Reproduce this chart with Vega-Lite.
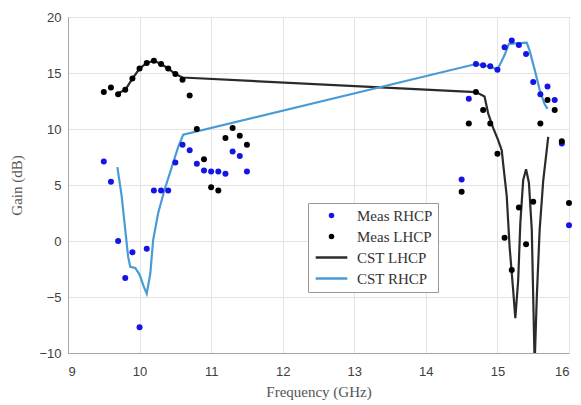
{
  "$schema": "https://vega.github.io/schema/vega-lite/v6.json",
  "width": 501,
  "height": 336,
  "autosize": "none",
  "padding": {"left": 68, "top": 17, "right": 12, "bottom": 52},
  "config": {
    "view": {"stroke": "#a6a6a6", "strokeWidth": 1},
    "axis": {
      "labelFont": "Liberation Sans",
      "labelFontSize": 13,
      "labelColor": "#404040",
      "titleFont": "Liberation Serif",
      "titleFontSize": 15,
      "titleFontWeight": "normal",
      "titleColor": "#555555",
      "gridColor": "#e3e3e3",
      "domainColor": "#a6a6a6",
      "ticks": false
    }
  },
  "datasets": {
    "meas": [
      {"s": "Meas RHCP", "f": 9.5, "g": 7.1},
      {"s": "Meas RHCP", "f": 9.6, "g": 5.3},
      {"s": "Meas RHCP", "f": 9.7, "g": 0.0},
      {"s": "Meas RHCP", "f": 9.8, "g": -3.3},
      {"s": "Meas RHCP", "f": 9.9, "g": -1.0},
      {"s": "Meas RHCP", "f": 10.0, "g": -7.7},
      {"s": "Meas RHCP", "f": 10.1, "g": -0.7},
      {"s": "Meas RHCP", "f": 10.2, "g": 4.5},
      {"s": "Meas RHCP", "f": 10.3, "g": 4.5},
      {"s": "Meas RHCP", "f": 10.4, "g": 4.5},
      {"s": "Meas RHCP", "f": 10.5, "g": 7.0},
      {"s": "Meas RHCP", "f": 10.6, "g": 8.6},
      {"s": "Meas RHCP", "f": 10.7, "g": 8.1},
      {"s": "Meas RHCP", "f": 10.8, "g": 6.9},
      {"s": "Meas RHCP", "f": 10.9, "g": 6.3},
      {"s": "Meas RHCP", "f": 11.0, "g": 6.2},
      {"s": "Meas RHCP", "f": 11.1, "g": 6.2},
      {"s": "Meas RHCP", "f": 11.2, "g": 6.0},
      {"s": "Meas RHCP", "f": 11.3, "g": 8.0},
      {"s": "Meas RHCP", "f": 11.4, "g": 7.6},
      {"s": "Meas RHCP", "f": 11.5, "g": 6.2},
      {"s": "Meas RHCP", "f": 14.5, "g": 5.5},
      {"s": "Meas RHCP", "f": 14.6, "g": 12.7},
      {"s": "Meas RHCP", "f": 14.7, "g": 15.8},
      {"s": "Meas RHCP", "f": 14.8, "g": 15.7},
      {"s": "Meas RHCP", "f": 14.9, "g": 15.6},
      {"s": "Meas RHCP", "f": 15.0, "g": 15.3},
      {"s": "Meas RHCP", "f": 15.1, "g": 17.3},
      {"s": "Meas RHCP", "f": 15.2, "g": 17.9},
      {"s": "Meas RHCP", "f": 15.3, "g": 17.5},
      {"s": "Meas RHCP", "f": 15.4, "g": 16.7},
      {"s": "Meas RHCP", "f": 15.5, "g": 14.2},
      {"s": "Meas RHCP", "f": 15.6, "g": 13.1},
      {"s": "Meas RHCP", "f": 15.7, "g": 13.8},
      {"s": "Meas RHCP", "f": 15.8, "g": 12.6},
      {"s": "Meas RHCP", "f": 15.9, "g": 8.7},
      {"s": "Meas RHCP", "f": 16.0, "g": 1.4},
      {"s": "Meas LHCP", "f": 9.5, "g": 13.3},
      {"s": "Meas LHCP", "f": 9.6, "g": 13.7},
      {"s": "Meas LHCP", "f": 9.7, "g": 13.1},
      {"s": "Meas LHCP", "f": 9.8, "g": 13.5},
      {"s": "Meas LHCP", "f": 9.9, "g": 14.5},
      {"s": "Meas LHCP", "f": 10.0, "g": 15.4},
      {"s": "Meas LHCP", "f": 10.1, "g": 15.9},
      {"s": "Meas LHCP", "f": 10.2, "g": 16.1},
      {"s": "Meas LHCP", "f": 10.3, "g": 15.8},
      {"s": "Meas LHCP", "f": 10.4, "g": 15.4},
      {"s": "Meas LHCP", "f": 10.5, "g": 14.9},
      {"s": "Meas LHCP", "f": 10.6, "g": 14.4},
      {"s": "Meas LHCP", "f": 10.7, "g": 13.0},
      {"s": "Meas LHCP", "f": 10.8, "g": 10.0},
      {"s": "Meas LHCP", "f": 10.9, "g": 7.3},
      {"s": "Meas LHCP", "f": 11.0, "g": 4.8},
      {"s": "Meas LHCP", "f": 11.1, "g": 4.5},
      {"s": "Meas LHCP", "f": 11.2, "g": 9.2},
      {"s": "Meas LHCP", "f": 11.3, "g": 10.1},
      {"s": "Meas LHCP", "f": 11.4, "g": 9.4},
      {"s": "Meas LHCP", "f": 11.5, "g": 8.6},
      {"s": "Meas LHCP", "f": 14.5, "g": 4.4},
      {"s": "Meas LHCP", "f": 14.6, "g": 10.5},
      {"s": "Meas LHCP", "f": 14.7, "g": 13.3},
      {"s": "Meas LHCP", "f": 14.8, "g": 11.7},
      {"s": "Meas LHCP", "f": 14.9, "g": 10.5},
      {"s": "Meas LHCP", "f": 15.0, "g": 7.8},
      {"s": "Meas LHCP", "f": 15.1, "g": 0.3},
      {"s": "Meas LHCP", "f": 15.2, "g": -2.6},
      {"s": "Meas LHCP", "f": 15.3, "g": 3.0},
      {"s": "Meas LHCP", "f": 15.4, "g": -0.3},
      {"s": "Meas LHCP", "f": 15.5, "g": 3.5},
      {"s": "Meas LHCP", "f": 15.6, "g": 10.5},
      {"s": "Meas LHCP", "f": 15.7, "g": 12.6},
      {"s": "Meas LHCP", "f": 15.8, "g": 11.7},
      {"s": "Meas LHCP", "f": 15.9, "g": 8.9},
      {"s": "Meas LHCP", "f": 16.0, "g": 3.4}
    ],
    "cst": [
      {"s": "CST LHCP", "f": 9.7, "g": 13.2},
      {"s": "CST LHCP", "f": 9.8, "g": 13.5},
      {"s": "CST LHCP", "f": 9.9, "g": 14.5},
      {"s": "CST LHCP", "f": 10.0, "g": 15.4},
      {"s": "CST LHCP", "f": 10.1, "g": 15.9},
      {"s": "CST LHCP", "f": 10.2, "g": 16.1},
      {"s": "CST LHCP", "f": 10.3, "g": 15.8},
      {"s": "CST LHCP", "f": 10.4, "g": 15.4},
      {"s": "CST LHCP", "f": 10.5, "g": 14.9},
      {"s": "CST LHCP", "f": 10.6, "g": 14.6},
      {"s": "CST LHCP", "f": 14.7, "g": 13.3},
      {"s": "CST LHCP", "f": 14.82, "g": 12.9},
      {"s": "CST LHCP", "f": 14.87, "g": 11.4},
      {"s": "CST LHCP", "f": 14.94, "g": 10.1},
      {"s": "CST LHCP", "f": 15.01, "g": 9.0},
      {"s": "CST LHCP", "f": 15.06, "g": 8.1},
      {"s": "CST LHCP", "f": 15.08, "g": 6.9},
      {"s": "CST LHCP", "f": 15.13, "g": 4.0},
      {"s": "CST LHCP", "f": 15.17, "g": -0.5},
      {"s": "CST LHCP", "f": 15.22, "g": -4.4},
      {"s": "CST LHCP", "f": 15.25, "g": -6.9},
      {"s": "CST LHCP", "f": 15.29, "g": -3.5},
      {"s": "CST LHCP", "f": 15.32, "g": 1.6},
      {"s": "CST LHCP", "f": 15.36, "g": 5.45},
      {"s": "CST LHCP", "f": 15.4, "g": 6.4},
      {"s": "CST LHCP", "f": 15.44, "g": 5.2},
      {"s": "CST LHCP", "f": 15.48, "g": 1.0},
      {"s": "CST LHCP", "f": 15.5, "g": -5.0},
      {"s": "CST LHCP", "f": 15.52, "g": -11.0},
      {"s": "CST LHCP", "f": 15.55, "g": -5.0},
      {"s": "CST LHCP", "f": 15.59, "g": 1.0},
      {"s": "CST LHCP", "f": 15.64, "g": 5.4},
      {"s": "CST LHCP", "f": 15.71, "g": 9.3},
      {"s": "CST RHCP", "f": 9.69, "g": 6.6},
      {"s": "CST RHCP", "f": 9.75, "g": 4.0},
      {"s": "CST RHCP", "f": 9.8, "g": 1.0},
      {"s": "CST RHCP", "f": 9.84, "g": -1.4},
      {"s": "CST RHCP", "f": 9.87, "g": -2.3},
      {"s": "CST RHCP", "f": 9.94, "g": -2.4},
      {"s": "CST RHCP", "f": 10.0, "g": -3.0},
      {"s": "CST RHCP", "f": 10.06, "g": -4.1},
      {"s": "CST RHCP", "f": 10.1, "g": -4.7},
      {"s": "CST RHCP", "f": 10.15, "g": -2.9},
      {"s": "CST RHCP", "f": 10.19, "g": 0.1},
      {"s": "CST RHCP", "f": 10.26, "g": 2.5},
      {"s": "CST RHCP", "f": 10.35, "g": 4.6},
      {"s": "CST RHCP", "f": 10.45, "g": 6.6},
      {"s": "CST RHCP", "f": 10.54, "g": 8.4},
      {"s": "CST RHCP", "f": 10.61, "g": 9.5},
      {"s": "CST RHCP", "f": 14.7, "g": 15.8},
      {"s": "CST RHCP", "f": 14.8, "g": 15.7},
      {"s": "CST RHCP", "f": 14.9, "g": 15.55},
      {"s": "CST RHCP", "f": 15.0, "g": 15.3},
      {"s": "CST RHCP", "f": 15.1, "g": 16.6},
      {"s": "CST RHCP", "f": 15.16, "g": 17.6},
      {"s": "CST RHCP", "f": 15.41, "g": 17.7},
      {"s": "CST RHCP", "f": 15.45, "g": 17.0},
      {"s": "CST RHCP", "f": 15.52, "g": 15.3},
      {"s": "CST RHCP", "f": 15.59, "g": 13.5},
      {"s": "CST RHCP", "f": 15.66, "g": 12.2},
      {"s": "CST RHCP", "f": 15.7, "g": 11.8}
    ]
  },
  "encoding": {
    "x": {
      "field": "f", "type": "quantitative",
      "scale": {"domain": [9, 16], "nice": false},
      "axis": {"title": "Frequency (GHz)", "values": [9, 10, 11, 12, 13, 14, 15, 16], "labelPadding": 12, "titlePadding": 6}
    },
    "y": {
      "field": "g", "type": "quantitative",
      "scale": {"domain": [-10, 20], "nice": false},
      "axis": {"title": "Gain (dB)", "values": [-10, -5, 0, 5, 10, 15, 20], "labelPadding": 7, "titlePadding": 14}
    },
    "color": {
      "field": "s", "type": "nominal",
      "scale": {
        "domain": ["Meas RHCP", "Meas LHCP", "CST LHCP", "CST RHCP"],
        "range": ["#1414e6", "#000000", "#2b2b2b", "#4a9bd5"]
      },
      "legend": {
        "title": null,
        "orient": "none",
        "legendX": 240,
        "legendY": 186,
        "labelFont": "Liberation Serif",
        "labelFontSize": 15,
        "labelColor": "#333333",
        "fillColor": "#ffffff",
        "strokeColor": "#999999",
        "padding": 5,
        "rowPadding": 5,
        "symbolOffset": 11,
        "labelOffset": 18,
        "symbolSize": 1000,
        "encode": {
          "symbols": {
            "update": {
              "shape": {"signal": "indexof(['CST LHCP','CST RHCP'], datum.value) >= 0 ? 'stroke' : 'circle'"},
              "size": {"signal": "indexof(['CST LHCP','CST RHCP'], datum.value) >= 0 ? 1000 : 30"},
              "fill": {"signal": "indexof(['CST LHCP','CST RHCP'], datum.value) >= 0 ? 'transparent' : scale('color', datum.value)"},
              "stroke": {"signal": "scale('color', datum.value)"},
              "strokeWidth": {"signal": "indexof(['CST LHCP','CST RHCP'], datum.value) >= 0 ? 2.5 : 0"},
              "opacity": {"value": 1}
            }
          }
        }
      }
    }
  },
  "layer": [
    {
      "data": {"name": "cst"},
      "mark": {"type": "line", "clip": true, "strokeWidth": 2.2}
    },
    {
      "data": {"name": "meas"},
      "mark": {"type": "point", "filled": true, "size": 36, "opacity": 1, "shape": "circle"}
    }
  ]
}
